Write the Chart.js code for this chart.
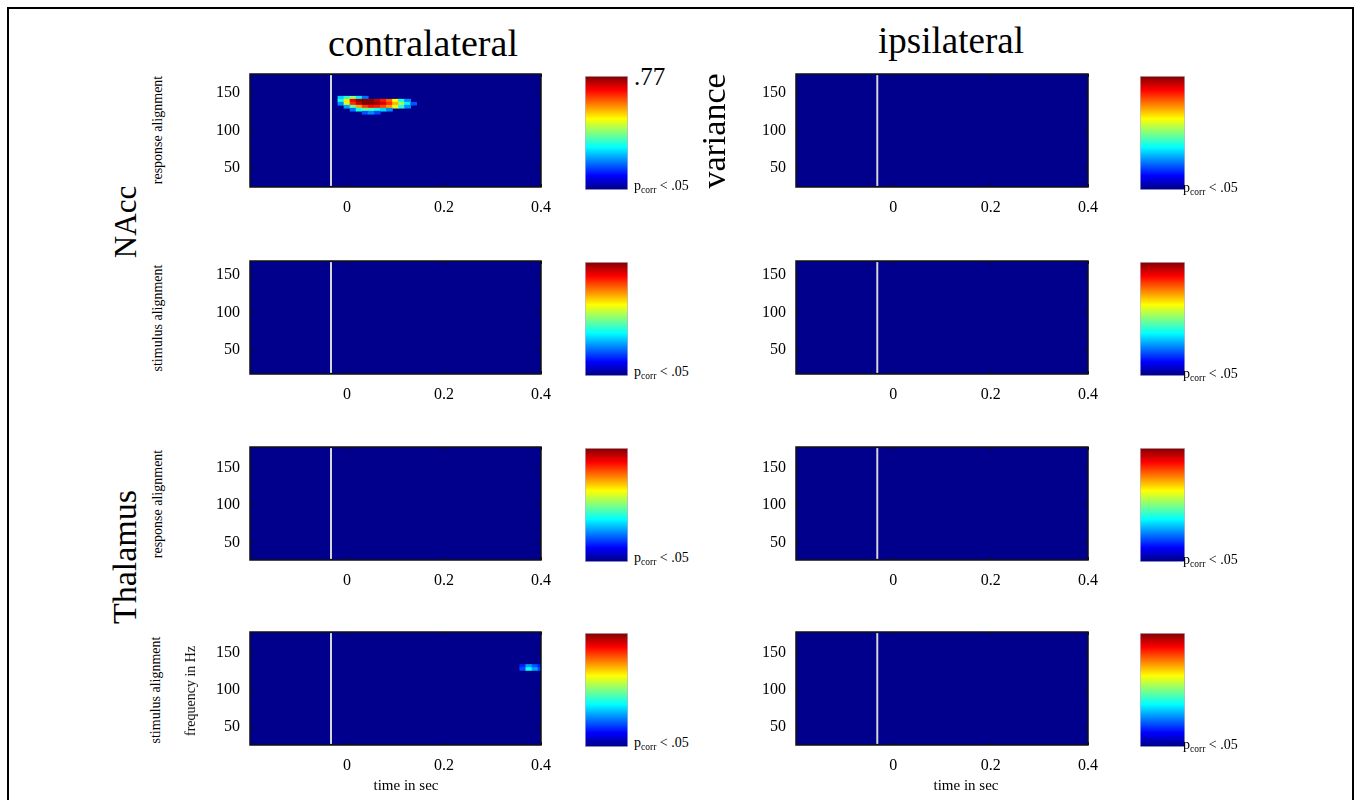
<!DOCTYPE html>
<html>
<head>
<meta charset="utf-8">
<script src="https://cdn.jsdelivr.net/npm/chart.js@4.4.1/dist/chart.umd.min.js"></script>
<style>
  body { margin:0; background:#fff; width:1356px; height:800px; overflow:hidden; position:relative; font-family:'Liberation Serif', serif; }
  .frame { position:absolute; left:7px; top:7px; width:1343px; height:820px; border:2.5px solid #000; border-bottom:none; }
  canvas { position:absolute; }
  .t { position:absolute; white-space:nowrap; color:#000; line-height:1; }
</style>
</head>
<body>
<div class="frame"></div>
<div id="root"></div>
<script>
// ---- data ----
const timeRange = [-0.2, 0.4];
const timeTicks = [0, 0.2, 0.4];
const markerTime = -0.033;          // white onset line
const freqTicks = [50, 100, 150];
const freqRanges = [[24.7, 175.7], [17.7, 168.7], [26.7, 177.7], [25.7, 177.7]];  // per row
const freqBin = 4;
const pMax = 0.77;

// NAcc, contralateral, response alignment
const naccTimes = [-0.0125, 0, 0.0125, 0.025, 0.0375, 0.05, 0.0625, 0.075, 0.0875, 0.1, 0.1125, 0.125, 0.1375];
const naccFreqs = [144, 140, 136, 132, 128, 124];
const naccVals = [
  [0.25, 0.32, 0.40, 0.28, 0.18, 0,    0,    0,    0,    0,    0,    0,    0   ],
  [0.30, 0.50, 0.68, 0.75, 0.77, 0.76, 0.72, 0.66, 0.60, 0.48, 0.30, 0.20, 0   ],
  [0.20, 0.45, 0.64, 0.72, 0.77, 0.77, 0.75, 0.70, 0.64, 0.54, 0.42, 0.28, 0.16],
  [0,    0.22, 0.36, 0.55, 0.63, 0.67, 0.66, 0.62, 0.56, 0.46, 0.32, 0.20, 0   ],
  [0,    0,    0.18, 0.30, 0.36, 0.34, 0.30, 0.26, 0.20, 0,    0,    0,    0   ],
  [0,    0,    0,    0,    0.16, 0.20, 0.15, 0,    0,    0,    0,    0,    0   ]
];

// Thalamus, contralateral, stimulus alignment
const thalTimes = [0.3625, 0.375, 0.3875, 0.4];
const thalFreqs = [132, 128];
const thalVals = [
  [0.12, 0.22, 0.16, 0.12],
  [0.15, 0.30, 0.22, 0.15]
];

// ---- layout ----
const colLeft = [250, 796], colWidth = [291, 292];
const rowTop = [74, 261, 447, 632], rowHeight = 113;
const cbLeft = [585, 1140], cbWidth = [43, 45];
const cbTop = [76, 262, 448, 633], cbHeight = 114;
const AX_W = 70, AX_H = 40, PAD_T = 8, PAD_R = 24;

Chart.defaults.font.family = "'Liberation Serif', serif";
Chart.defaults.color = '#000';

const root = document.getElementById('root');

function jet(t) {
  t = Math.max(0, Math.min(1, t));
  const c = k => Math.round(255 * Math.max(0, Math.min(1, 1.5 - Math.abs(4 * t - k))));
  return `rgb(${c(3)},${c(2)},${c(1)})`;
}
const bgBlue = 'rgb(0,0,140)';

function cellsFrom(times, freqs, vals) {
  const out = [];
  freqs.forEach((f, i) => times.forEach((t, j) => {
    const v = vals[i][j];
    if (v > 0) out.push({ x: t, y: [f - freqBin / 2, f + freqBin / 2], v });
  }));
  return out;
}

function addCanvas(left, top, w, h) {
  const cv = document.createElement('canvas');
  cv.width = w; cv.height = h;
  cv.style.left = left + 'px'; cv.style.top = top + 'px';
  cv.style.width = w + 'px'; cv.style.height = h + 'px';
  root.appendChild(cv);
  return cv;
}

// no automatic label overflow padding, layout is fixed by hand
const noPad = s => { s.paddingTop = 0; s.paddingBottom = 0; s.paddingLeft = 0; s.paddingRight = 0; };

const panelDeco = {
  id: 'panelDeco',
  beforeDatasetsDraw(chart) {
    const { ctx, chartArea: a } = chart;
    ctx.save();
    ctx.fillStyle = bgBlue;
    ctx.fillRect(a.left, a.top, a.width, a.height);
    ctx.restore();
  },
  afterDatasetsDraw(chart) {
    const { ctx, chartArea: a, scales } = chart;
    ctx.save();
    ctx.strokeStyle = '#111';
    ctx.lineWidth = 1;
    ctx.beginPath();
    freqTicks.forEach(f => {
      const y = Math.round(scales.y.getPixelForValue(f)) + 0.5;
      ctx.moveTo(a.left, y); ctx.lineTo(a.left + 3, y);
      ctx.moveTo(a.right, y); ctx.lineTo(a.right - 3, y);
    });
    timeTicks.forEach(t => {
      const x = Math.round(scales.x.getPixelForValue(t)) + 0.5;
      ctx.moveTo(x, a.bottom); ctx.lineTo(x, a.bottom - 3);
      ctx.moveTo(x, a.top); ctx.lineTo(x, a.top + 3);
    });
    ctx.stroke();
    ctx.lineWidth = 1.5;
    ctx.strokeRect(a.left, a.top, a.width, a.height);
    ctx.restore();
  }
};

function heatmap(row, col, cells) {
  const yr = freqRanges[row];
  const cv = addCanvas(colLeft[col] - AX_W, rowTop[row] - PAD_T,
                       AX_W + colWidth[col] + PAD_R, PAD_T + rowHeight + AX_H);
  new Chart(cv, {
    type: 'bar',
    data: {
      datasets: [
        { type: 'line', data: [{ x: markerTime, y: yr[0] + 1.5 }, { x: markerTime, y: yr[1] - 1.5 }],
          borderColor: '#d6d6d6', borderWidth: 2, pointRadius: 0, order: 0 },
        { type: 'bar', data: cells, order: 1,
          backgroundColor: c => jet(c.raw ? c.raw.v / pMax : 0),
          borderWidth: 0, barPercentage: 1, categoryPercentage: 1 }
      ]
    },
    options: {
      animation: false, responsive: false, events: [],
      layout: { padding: { top: PAD_T, right: PAD_R, left: 0, bottom: 0 } },
      plugins: { legend: { display: false }, tooltip: { enabled: false } },
      scales: {
        x: {
          type: 'linear', min: timeRange[0], max: timeRange[1], offset: false,
          afterBuildTicks: s => { s.ticks = timeTicks.map(v => ({ value: v })); },
          afterFit: s => { s.height = AX_H; noPad(s); },
          ticks: { font: { size: 16 }, padding: 11, maxRotation: 0, callback: v => String(v) },
          grid: { display: false, drawTicks: false }, border: { display: false }
        },
        y: {
          type: 'linear', min: yr[0], max: yr[1],
          afterBuildTicks: s => { s.ticks = freqTicks.map(v => ({ value: v })); },
          afterFit: s => { s.width = AX_W; noPad(s); },
          ticks: { font: { size: 16 }, padding: 10 },
          grid: { display: false, drawTicks: false }, border: { display: false }
        }
      }
    },
    plugins: [panelDeco]
  });
}

function colorbar(row, col) {
  const cv = addCanvas(cbLeft[col], cbTop[row], cbWidth[col], cbHeight);
  new Chart(cv, {
    type: 'bar',
    data: {
      labels: [''],
      datasets: [{
        data: [[0, pMax]],
        backgroundColor: c => {
          const a = c.chart.chartArea;
          if (!a) return bgBlue;
          const g = c.chart.ctx.createLinearGradient(0, a.bottom, 0, a.top);
          [0, 0.125, 0.375, 0.625, 0.875, 1].forEach(s => g.addColorStop(s, jet(s)));
          return g;
        },
        borderColor: '#b8b8d0', borderWidth: 1, borderSkipped: false,
        barPercentage: 1, categoryPercentage: 1
      }]
    },
    options: {
      animation: false, responsive: false, events: [],
      layout: { padding: 0 },
      plugins: { legend: { display: false }, tooltip: { enabled: false } },
      scales: { x: { display: false }, y: { display: false, min: 0, max: pMax } }
    }
  });
}

for (let r = 0; r < 4; r++) {
  for (let c = 0; c < 2; c++) {
    let cells = [];
    if (r === 0 && c === 0) cells = cellsFrom(naccTimes, naccFreqs, naccVals);
    if (r === 3 && c === 0) cells = cellsFrom(thalTimes, thalFreqs, thalVals);
    heatmap(r, c, cells);
    colorbar(r, c);
  }
}

// ---- text ----
function text(html, x, baseline, size, center) {
  const d = document.createElement('div');
  d.className = 't';
  d.innerHTML = html;
  d.style.fontSize = size + 'px';
  d.style.left = x + 'px';
  d.style.top = (baseline - 0.8375 * size) + 'px';
  if (center) d.style.transform = 'translateX(-50%)';
  root.appendChild(d);
}
function vtext(html, cx, cy, size) {
  const d = document.createElement('div');
  d.className = 't';
  d.innerHTML = html;
  d.style.fontSize = size + 'px';
  d.style.left = cx + 'px';
  d.style.top = cy + 'px';
  d.style.transform = 'translate(-50%,-50%) rotate(-90deg)';
  root.appendChild(d);
}

text('contralateral', 423, 56, 38, true);
text('ipsilateral', 951, 53, 37, true);
text('.77', 634, 85, 25, false);
vtext('variance', 714, 131, 34);
vtext('NAcc', 125, 222, 31);
vtext('Thalamus', 125, 557, 34);

vtext('response alignment', 158, 130, 14);
vtext('stimulus alignment', 158, 318, 14);
vtext('response alignment', 158, 504, 14);
vtext('stimulus alignment', 156, 690, 14);
vtext('frequency in Hz', 191, 691, 14);
text('time in sec', 406, 791, 15, true);
text('time in sec', 966, 791, 15, true);

const pcorr = 'p<span style="font-size:9.5px;position:relative;top:3px">corr</span> &lt; .05';
for (let r = 0; r < 4; r++) {
  text(pcorr, 634, cbTop[r] + cbHeight + 1, 14, false);
  text(pcorr, 1183, cbTop[r] + cbHeight + 3, 14, false);
}
</script>
</body>
</html>
